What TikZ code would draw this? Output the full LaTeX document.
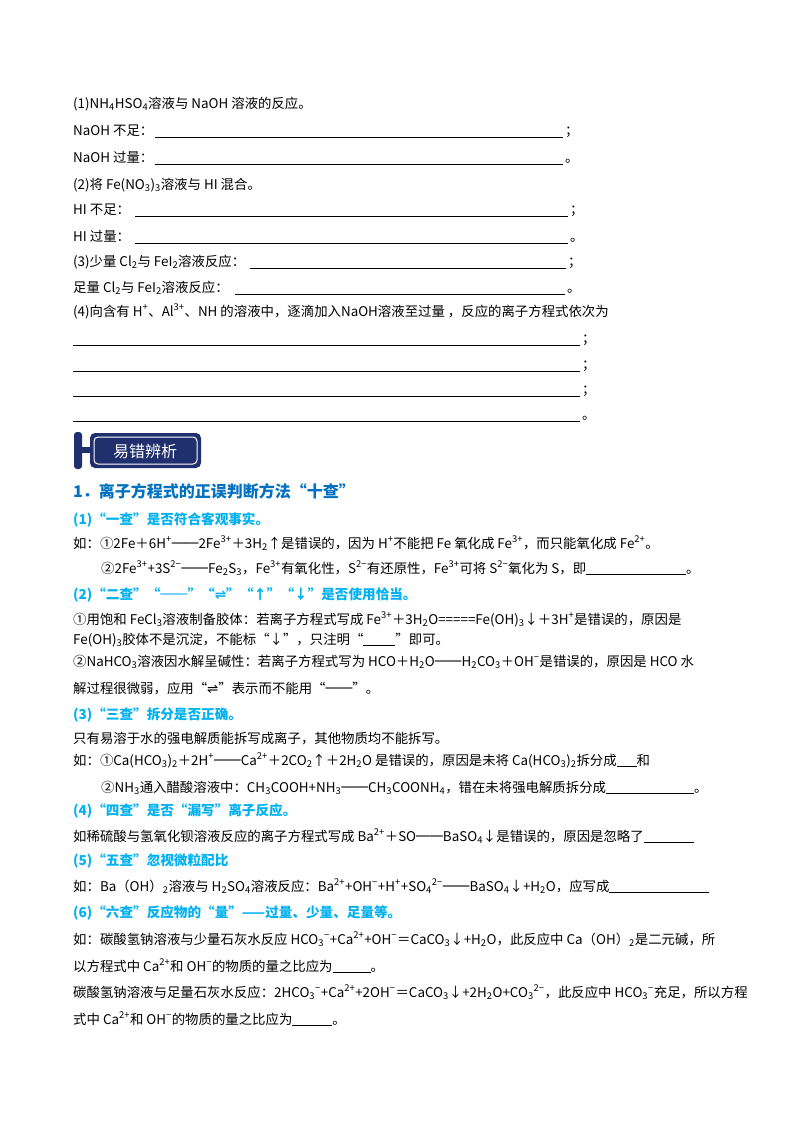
\documentclass[tikz,border=0pt]{standalone}
\usepackage{fontspec}
\setmainfont{Noto Sans CJK SC}
\newfontfamily\djfont{DejaVu Sans}
\newcommand{\Up}[1]{\textsuperscript{#1}}
\newcommand{\Dn}[1]{\textsubscript{#1}}
\newcommand{\eqa}{{\djfont ⇌}}
\newcommand{\blank}[1]{\underline{\hspace{#1}}}
\definecolor{ttl}{RGB}{0,112,192}
\definecolor{sub}{RGB}{0,176,240}
\definecolor{hdr}{RGB}{32,48,110}
\tikzset{t/.style={anchor=base west,inner sep=0pt,font=\fontsize{13.4}{15}\selectfont},
 st/.style={t,text=sub,font=\fontsize{13.6}{15}\selectfont\bfseries},
 bl/.style={line width=0.6pt}}
\begin{document}
\begin{tikzpicture}[x=1pt,y=-1pt]
\useasboundingbox (0,0) rectangle (800,1132);
% part 1
\node[t] (a1) at (73,108) {(1)NH\Dn{4}HSO\Dn{4}溶液与 NaOH 溶液的反应。};
\node[t] (a2) at (73,135) {NaOH 不足：};
\draw[bl] (155,137) -- (563,137); \node[t] (a2e) at (565,135) {；};
\node[t] (a3) at (73,162) {NaOH 过量：};
\draw[bl] (155,164) -- (563,164); \node[t] (a3e) at (565,162) {。};
\node[t] (a4) at (73,189) {(2)将 Fe(NO\Dn{3})\Dn{3}溶液与 HI 混合。};
\node[t] (a5) at (73,214) {HI 不足：};
\draw[bl] (135,216) -- (568,216); \node[t] (a5e) at (570,214) {；};
\node[t] (a6) at (73,241) {HI 过量：};
\draw[bl] (135,243) -- (568,243); \node[t] (a6e) at (570,241) {。};
\node[t] (a7) at (73,266) {(3)少量 Cl\Dn{2}与 FeI\Dn{2}溶液反应：};
\draw[bl] (250,268) -- (566,268); \node[t] (a7e) at (568,266) {；};
\node[t] (a8) at (73,292) {足量 Cl\Dn{2}与 FeI\Dn{2}溶液反应：};
\draw[bl] (235,294) -- (565,294); \node[t] (a8e) at (567,292) {。};
\node[t] (a9) at (73,316) {(4)向含有 H\Up{+}、Al\Up{3+}、NH 的溶液中，逐滴加入NaOH溶液至过量 ，反应的离子方程式依次为};
\foreach \yy/\ch in {345/；,371/；,396/；,421/。}{
 \draw[bl] (73,\yy) -- (580,\yy); \node[t] at (582,\yy-2) {\ch};}
% header
\fill[hdr,rounded corners=3pt] (74,432) rectangle (82,469);
\fill[hdr] (82,447) rectangle (92,453);
\fill[hdr,rounded corners=5pt] (90,433) rectangle (201,468);
\draw[white,line width=1pt,rounded corners=4pt] (94,437) rectangle (197,464);
\node[anchor=center,text=white,font=\fontsize{16}{17}\selectfont] (hd) at (145,451) {易错辨析};
% section
\node[t,text=ttl,font=\fontsize{16}{17}\selectfont\bfseries] (s1) at (73,497) {1．离子方程式的正误判断方法“十查”};
\node[st] (b1) at (73,524) {(1)“一查”是否符合客观事实。};
\node[t] (b2) at (73,548) {如：①2Fe＋6H\Up{+}══2Fe\Up{3+}＋3H\Dn{2}↑是错误的，因为 H\Up{+}不能把 Fe 氧化成 Fe\Up{3+}，而只能氧化成 Fe\Up{2+}。};
\node[t] (b3) at (101,573) {②2Fe\Up{3+}+3S\Up{2−}══Fe\Dn{2}S\Dn{3}，Fe\Up{3+}有氧化性，S\Up{2−}有还原性，Fe\Up{3+}可将 S\Up{2−}氧化为 S，即\blank{100pt}。};
\node[st] (b4) at (73,599) {(2)“二查”“══”“\eqa”“↑”“↓”是否使用恰当。};
\node[t] (b5) at (73,624) {①用饱和 FeCl\Dn{3}溶液制备胶体：若离子方程式写成 Fe\Up{3+}＋3H\Dn{2}O=====Fe(OH)\Dn{3}↓＋3H\Up{+}是错误的，原因是};
\node[t] (b6) at (73,644) {Fe(OH)\Dn{3}胶体不是沉淀，不能标“↓”，只注明“\blank{32pt}”即可。};
\node[t] (b7) at (73,666) {②NaHCO\Dn{3}溶液因水解呈碱性：若离子方程式写为 HCO＋H\Dn{2}O══H\Dn{2}CO\Dn{3}＋OH\Up{−}是错误的，原因是 HCO 水};
\node[t] (b8) at (73,693) {解过程很微弱，应用“\eqa”表示而不能用“══”。};
\node[st] (c1) at (73,719) {(3)“三查”拆分是否正确。};
\node[t] (c2) at (73,743) {只有易溶于水的强电解质能拆写成离子，其他物质均不能拆写。};
\node[t] (c3) at (73,765) {如：①Ca(HCO\Dn{3})\Dn{2}＋2H\Up{+}══Ca\Up{2+}＋2CO\Dn{2}↑＋2H\Dn{2}O 是错误的，原因是未将 Ca(HCO\Dn{3})\Dn{2}拆分成\blank{20pt}和};
\node[t] (c4) at (101,792) {②NH\Dn{3}通入醋酸溶液中：CH\Dn{3}COOH+NH\Dn{3}══CH\Dn{3}COONH\Dn{4}，错在未将强电解质拆分成\blank{88pt}。};
\node[st] (d1) at (73,815) {(4)“四查”是否“漏写”离子反应。};
\node[t] (d2) at (73,841) {如稀硫酸与氢氧化钡溶液反应的离子方程式写成 Ba\Up{2+}＋SO══BaSO\Dn{4}↓是错误的，原因是忽略了\blank{50pt}};
\node[st] (e1) at (73,865) {(5)“五查”忽视微粒配比};
\node[t] (e2) at (73,891) {如：Ba（OH）\Dn{2}溶液与 H\Dn{2}SO\Dn{4}溶液反应：Ba\Up{2+}+OH\Up{−}+H\Up{+}+SO\Dn{4}\Up{2−}══BaSO\Dn{4}↓+H\Dn{2}O，应写成\blank{100pt}};
\node[st] (f1) at (73,917) {(6)“六查”反应物的“量”——过量、少量、足量等。};
\node[t] (f2) at (73,944) {如：碳酸氢钠溶液与少量石灰水反应 HCO\Dn{3}\Up{−}+Ca\Up{2+}+OH\Up{−}＝CaCO\Dn{3}↓+H\Dn{2}O，此反应中 Ca（OH）\Dn{2}是二元碱，所};
\node[t] (f3) at (73,971) {以方程式中 Ca\Up{2+}和 OH\Up{−}的物质的量之比应为\blank{38pt}。};
\node[t] (f4) at (73,997) {碳酸氢钠溶液与足量石灰水反应：2HCO\Dn{3}\Up{−}+Ca\Up{2+}+2OH\Up{−}＝CaCO\Dn{3}↓+2H\Dn{2}O+CO\Dn{3}\Up{2−}，此反应中 HCO\Dn{3}\Up{−}充足，所以方程};
\node[t] (f5) at (73,1024) {式中 Ca\Up{2+}和 OH\Up{−}的物质的量之比应为\blank{40pt}。};
\end{tikzpicture}
\end{document}
